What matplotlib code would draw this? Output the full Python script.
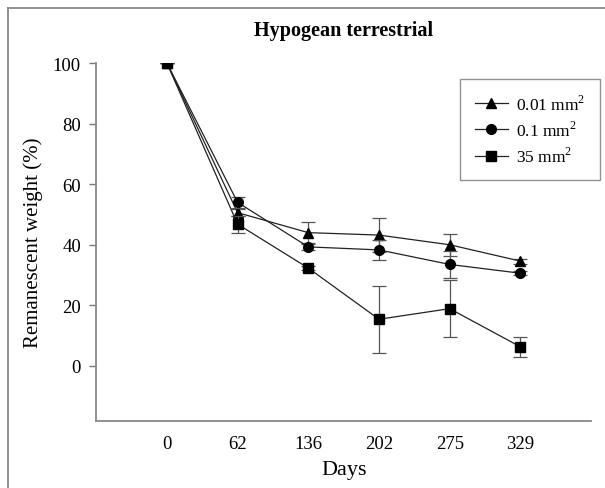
import matplotlib
matplotlib.use('Agg')
import matplotlib.pyplot as plt
from matplotlib.lines import Line2D

plt.rcParams['font.family'] = 'Liberation Serif'
plt.rcParams['mathtext.fontset'] = 'custom'
plt.rcParams['mathtext.rm'] = 'Liberation Serif'

days = ['0', '62', '136', '202', '275', '329']
tri = [100, 50.6, 44.0, 43.2, 40.0, 34.6]
tri_err = [0, 1.2, 3.5, 5.6, 3.6, 0.8]
circ = [100, 54.0, 39.3, 38.3, 33.5, 30.6]
circ_err = [0, 1.8, 1.0, 3.3, 4.6, 0.6]
sq = [100, 46.8, 32.3, 15.4, 18.9, 6.3]
sq_err = [0, 2.8, 0.8, 11.0, 9.3, 3.4]
labels = ['0.01 mm$^2$', '0.1 mm$^2$', '35 mm$^2$']

fig = plt.figure(figsize=(6.05, 4.89), dpi=100)
ax = fig.add_axes([0.159, 0.137, 0.818, 0.732])

x = list(range(len(days)))
series = [(tri, tri_err, '^', labels[0]), (circ, circ_err, 'o', labels[1]), (sq, sq_err, 's', labels[2])]
for vals, err, m, lab in series:
    ax.errorbar(x, vals, yerr=err, fmt='none', ecolor='#555555', elinewidth=0.9, capsize=5, capthick=0.9)
    ax.plot(x, vals, color='#222222', lw=0.9, marker=m, ms=7, mfc='black', mec='black', label=lab)

ax.set_xlim(-1, 6)
ax.set_ylim(-18.2, 100)
ax.set_xticks(x)
ax.set_xticklabels(days)
ax.set_yticks([0, 20, 40, 60, 80, 100])
ax.tick_params(axis='x', length=0, pad=10, labelsize=13.5)
ax.tick_params(axis='y', length=5, width=1, color='#777777', labelsize=13.5, pad=6)
for s in ['top', 'right']:
    ax.spines[s].set_visible(False)
for s in ['left', 'bottom']:
    ax.spines[s].set_color('#888888')
    ax.spines[s].set_linewidth(1.3)

ax.set_xlabel('Days', fontsize=16, labelpad=6)
ax.set_ylabel('Remanescent weight (%)', fontsize=15, labelpad=7)
ax.set_title('Hypogean terrestrial', fontsize=14.5, fontweight='bold', pad=20)

leg = ax.legend(loc='upper left', bbox_to_anchor=(0.735, 0.955), fontsize=12.5,
                frameon=True, fancybox=False, borderpad=0.85, handlelength=1.9,
                labelspacing=0.4, borderaxespad=0, handletextpad=0.5)
leg.get_frame().set_edgecolor('#777777')
leg.get_frame().set_linewidth(1.0)

# page frame lines
fig.add_artist(Line2D([8 / 605, 8 / 605], [0, 1 - 9 / 489], color='#888888', lw=1.3))
fig.add_artist(Line2D([8 / 605, 1], [1 - 9 / 489, 1 - 9 / 489], color='#888888', lw=1.3))

fig.savefig('out.png', dpi=100)
